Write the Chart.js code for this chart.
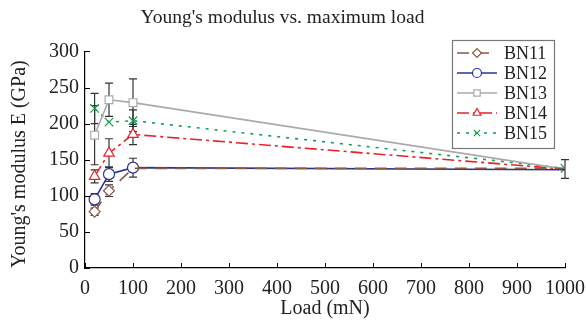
<!DOCTYPE html>
<html>
<head>
<meta charset="utf-8">
<script src="https://cdn.jsdelivr.net/npm/chart.js@4/dist/chart.umd.min.js"></script>
<style>
  html, body { margin: 0; padding: 0; background: #fff; }
  #wrap { width: 586px; height: 322px; }
</style>
</head>
<body>
<div id="wrap"><canvas id="chart" width="586" height="322"></canvas></div>
<script>
// data
const loads = [20, 50, 100, 1000];
const bn11 = [78, 107, 138, 138];
const bn12 = [95, 130, 139, 136];
const bn13 = [184, 233, 229, 137];
const bn14 = [127, 159, 185, 137];
const bn15 = [221, 202, 204, 138];

const err11 = [5, 8, 0, 0];
const err12 = [8, 10, 13, 0];
const err13 = [41, 23, 33, 0];
const err14 = [9, 20, 14, 13];
const err15 = [21, 0, 15, 0];

// which markers show in the reference (the rest sit under other marks)
const show11 = [1, 1, 0, 0];
const show12 = [1, 1, 1, 0];
const show13 = [1, 1, 1, 0];
const show14 = [1, 1, 1, 0];
const show15 = [1, 1, 1, 1];

const yTicks = [0, 50, 100, 150, 200, 250, 300];

const SERIF = "'Liberation Serif', 'DejaVu Serif', serif";

function series(label, values, errs, shown, color, dash, style, radius) {
  return {
    label: label,
    data: loads.map((x, i) => ({ x: x, y: values[i] })),
    errs: errs,
    borderColor: color,
    borderWidth: 1.6,
    borderDash: dash,
    pointStyle: style,
    pointRadius: shown.map(s => s ? radius : 0),
    pointBorderWidth: 1.2,
    pointBorderColor: color,
    pointBackgroundColor: '#fff',
    tension: 0
  };
}

// error bars, drawn through the scales
const errorBars = {
  id: 'errorBars',
  beforeDatasetsDraw(chart) {
    const ctx = chart.ctx;
    const xs = chart.scales.x, ys = chart.scales.y;
    ctx.save();
    ctx.strokeStyle = '#333';
    ctx.lineWidth = 1.2;
    chart.data.datasets.forEach(ds => {
      ds.data.forEach((p, i) => {
        const e = ds.errs[i];
        if (!e) return;
        const px = xs.getPixelForValue(p.x);
        const top = ys.getPixelForValue(p.y + e);
        const bot = ys.getPixelForValue(p.y - e);
        ctx.beginPath();
        ctx.moveTo(px, top); ctx.lineTo(px, bot);
        ctx.moveTo(px - 4, top); ctx.lineTo(px + 4, top);
        ctx.moveTo(px - 4, bot); ctx.lineTo(px + 4, bot);
        ctx.stroke();
      });
    });
    ctx.restore();
  }
};

// tick marks pointing into the plot
const innerTicks = {
  id: 'innerTicks',
  afterDraw(chart) {
    const ctx = chart.ctx;
    const xs = chart.scales.x, ys = chart.scales.y;
    const a = chart.chartArea;
    ctx.save();
    ctx.strokeStyle = '#000';
    ctx.lineWidth = 1;
    ctx.beginPath();
    xs.ticks.forEach(t => {
      const px = Math.round(xs.getPixelForValue(t.value)) + 0.5;
      ctx.moveTo(px, a.bottom); ctx.lineTo(px, a.bottom - 5);
    });
    ys.ticks.forEach(t => {
      const py = Math.round(ys.getPixelForValue(t.value)) + 0.5;
      ctx.moveTo(a.left, py); ctx.lineTo(a.left + 5, py);
    });
    ctx.stroke();
    ctx.restore();
  }
};

// boxed legend inside the upper right corner
const boxLegend = {
  id: 'boxLegend',
  afterDraw(chart) {
    const ctx = chart.ctx;
    const bx = 452, by = 40, bw = 102, bh = 108;
    ctx.save();
    ctx.fillStyle = '#fff';
    ctx.fillRect(bx, by, bw, bh);
    ctx.strokeStyle = '#777';
    ctx.lineWidth = 1.2;
    ctx.strokeRect(bx + 0.5, by + 0.5, bw, bh);
    chart.data.datasets.forEach((ds, i) => {
      const y = by + 13 + i * 20;
      ctx.strokeStyle = ds.borderColor;
      ctx.lineWidth = ds.borderWidth;
      ctx.setLineDash(ds.borderDash || []);
      ctx.beginPath();
      ctx.moveTo(bx + 5, y); ctx.lineTo(bx + 45, y);
      ctx.stroke();
      ctx.setLineDash([]);
      ctx.fillStyle = '#fff';
      ctx.lineWidth = 1.2;
      Chart.helpers.drawPoint(ctx, { pointStyle: ds.pointStyle, radius: 4.5, borderWidth: 1.2 }, bx + 25, y);
      ctx.fillStyle = '#222';
      ctx.font = '18px ' + SERIF;
      ctx.textBaseline = 'middle';
      ctx.fillText(ds.label, bx + 52, y + 1);
    });
    ctx.restore();
  }
};

new Chart(document.getElementById('chart'), {
  type: 'line',
  data: {
    datasets: [
      series('BN11', bn11, err11, show11, '#8a5a44', [12, 8], 'rectRot', 5.5),
      series('BN12', bn12, err12, show12, '#2a3590', [], 'circle', 5.5),
      series('BN13', bn13, err13, show13, '#aaaaaa', [], 'rect', 5.5),
      series('BN14', bn14, err14, show14, '#e8222a', [12, 4, 3, 4], 'triangle', 6),
      series('BN15', bn15, err15, show15, '#10a050', [3, 6], 'crossRot', 6)
    ]
  },
  options: {
    responsive: false,
    animation: false,
    layout: { padding: { top: 0, right: 21, left: 0, bottom: 0 } },
    plugins: {
      legend: { display: false },
      tooltip: { enabled: false },
      title: {
        display: true,
        text: "Young's modulus vs. maximum load",
        color: '#222',
        font: { family: SERIF, size: 19.5, weight: 'normal' },
        padding: { top: 6, bottom: 22 }
      }
    },
    scales: {
      x: {
        type: 'linear',
        min: 0, max: 1000,
        afterFit(s) { s.height = 54; s.paddingLeft = 0; s.paddingRight = 0; },
        grid: { display: false, drawTicks: false },
        border: { display: true, color: '#000', width: 1.2 },
        ticks: { stepSize: 100, padding: 9, color: '#222', font: { family: SERIF, size: 20 },
                 callback: v => String(v) },
        title: { display: true, text: 'Load (mN)', color: '#222', font: { family: SERIF, size: 20 }, padding: { bottom: 1 } }
      },
      y: {
        min: 0, max: 300,
        afterFit(s) { s.width = 85; s.paddingTop = 0; s.paddingBottom = 0; },
        afterBuildTicks(s) { s.ticks = yTicks.map(v => ({ value: v })); },
        grid: { display: false, drawTicks: false },
        border: { display: true, color: '#000', width: 1.2 },
        ticks: { padding: 6, color: '#222', font: { family: SERIF, size: 20 } },
        title: { display: true, align: 'start', text: 'Young\'s modulus E (GPa)', color: '#222', font: { family: SERIF, size: 20 }, padding: { top: 8 } }
      }
    }
  },
  plugins: [errorBars, innerTicks, boxLegend]
});
</script>
</body>
</html>
